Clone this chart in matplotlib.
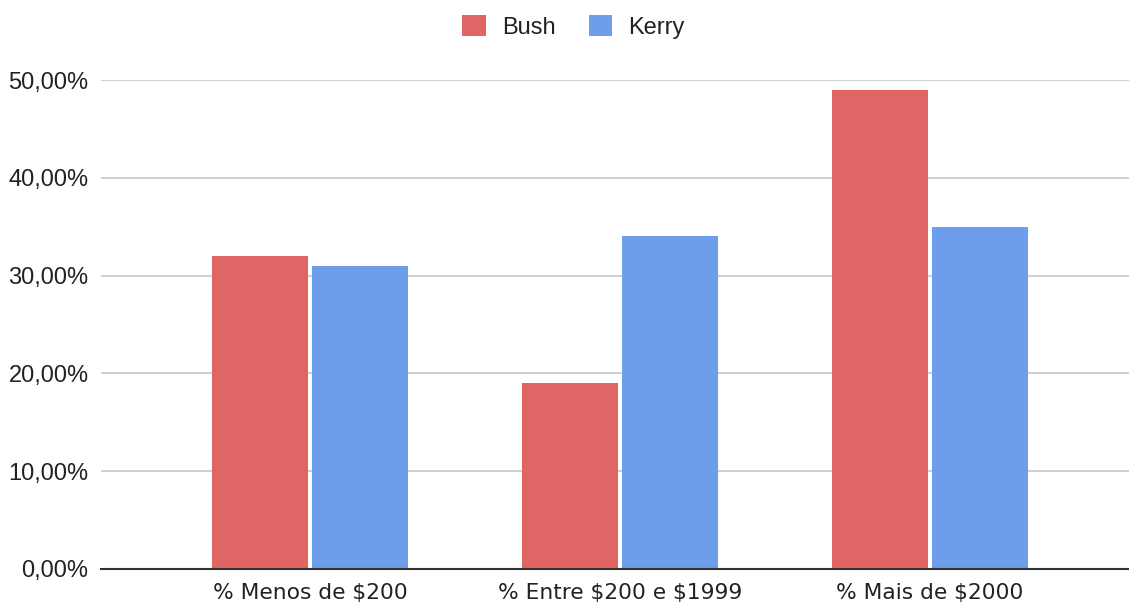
import matplotlib
matplotlib.use("Agg")
import matplotlib.pyplot as plt
from matplotlib.ticker import FuncFormatter
from matplotlib.patches import Patch
import numpy as np

categories = ["% Menos de \\$200", "% Entre \\$200 e \\$1999", "% Mais de \\$2000"]
series_names = ["Bush", "Kerry"]
bush = [32, 19, 49]
kerry = [31, 34, 35]
yticks = [0, 10, 20, 30, 40, 50]

colors = ["#E06666", "#6D9EEB"]

plt.rcParams["font.family"] = ["Liberation Sans", "DejaVu Sans"]

fig = plt.figure(figsize=(11.29, 6.10), dpi=100)
ax = fig.add_axes([101 / 1129, 41 / 610, 1028 / 1129, 489 / 610])

x = np.arange(len(categories))
w = 0.31
off = 0.162
ax.bar(x - off, bush, width=w, color=colors[0], zorder=3)
ax.bar(x + off, kerry, width=w, color=colors[1], zorder=3)

ax.set_xlim(-0.674, 2.642)
ax.set_ylim(0, 50)
ax.set_yticks(yticks)
ax.yaxis.set_major_formatter(FuncFormatter(lambda v, p: f"{v:.2f}%".replace(".", ",")))
ax.set_xticks(x)
ax.set_xticklabels(categories, fontfamily="DejaVu Sans", fontsize=15.7)

ax.grid(axis="y", color="#cccccc", linewidth=1.3, zorder=0)
for s in ["top", "right", "left"]:
    ax.spines[s].set_visible(False)
ax.spines["bottom"].set_color("#333333")
ax.spines["bottom"].set_linewidth(1.5)
ax.spines["bottom"].set_zorder(4)
ax.tick_params(axis="both", length=0, colors="#222222")
ax.tick_params(axis="y", pad=9, labelsize=17)
ax.tick_params(axis="x", pad=10)

handles = [Patch(facecolor=c, edgecolor="none") for c in colors]
fig.legend(handles, series_names, loc="center", bbox_to_anchor=(573.5 / 1129, 1 - 27 / 610),
           ncol=2, frameon=False, fontsize=17, handlelength=1.0, handleheight=1.0,
           handletextpad=0.68, columnspacing=1.4, labelcolor="#222222")

fig.savefig("out.png", dpi=100)
